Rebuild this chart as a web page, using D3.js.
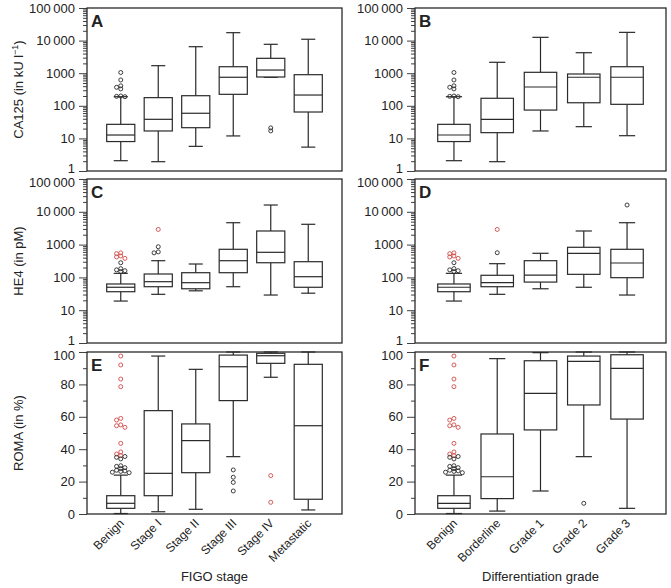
<!DOCTYPE html>
<html>
<head>
<meta charset="utf-8">
<script src="https://cdn.jsdelivr.net/npm/d3@7"></script>
<style>
	body { margin: 0; background: #fff; }
	text { font-family: "Liberation Sans", Arial, sans-serif; fill: #222; }
</style>
</head>
<body>
<div class="canvas"></div>
<script>
// categories
const figoCats = ['Benign', 'Stage I', 'Stage II', 'Stage III', 'Stage IV', 'Metastatic'];
const gradeCats = ['Benign', 'Borderline', 'Grade 1', 'Grade 2', 'Grade 3'];

// box stats: [whisker low, q1, median, q3, whisker high]
const ca125Figo = [
	[2.07, 8, 12.7, 27, 190],
	[1.93, 16.9, 38.5, 178, 1700],
	[5.7, 21.3, 59, 204, 6500],
	[11.9, 225, 750, 1580, 17500],
	[750, 765, 1250, 2860, 7700],
	[5.4, 64.5, 214, 900, 11000]
];
const ca125Grade = [
	[2.07, 8, 12.7, 27, 190],
	[1.93, 15, 38.5, 170, 2160],
	[16.9, 74, 377, 1065, 12600],
	[22.9, 124, 750, 945, 4250],
	[12.1, 111, 750, 1580, 17900]
];
const he4Figo = [
	[19, 36.6, 50, 63, 133],
	[30.5, 52, 74, 127, 323],
	[39, 45, 69, 139, 256],
	[52, 139, 323, 719, 4650],
	[29, 280, 582, 2600, 16100],
	[33, 50, 105, 301, 4160]
];
const he4Grade = [
	[19, 36.6, 50, 63, 133],
	[30.5, 52, 69, 116, 262],
	[45, 72, 118, 323, 543],
	[50, 124, 543, 828, 2600],
	[29, 98, 275, 719, 4650]
];
const romaFigo = [
	[0.3, 3.5, 6.6, 11.3, 24],
	[1.4, 11.3, 25.1, 63.8, 97.5],
	[2.9, 25.5, 45.3, 55.6, 89.3],
	[35.4, 70, 90.9, 98.1, 100],
	[84.4, 93, 97.7, 99.2, 100],
	[2.5, 9.1, 54.5, 92.4, 100]
];
const romaGrade = [
	[0.3, 3.5, 6.6, 11.3, 24],
	[1.8, 9.5, 23, 49.4, 95.9],
	[14.2, 51.9, 74.5, 94.6, 99.6],
	[35.4, 67.3, 94.2, 97.5, 100],
	[3.5, 58.6, 89.9, 98.3, 100]
];

// outliers (black / red), one list per category
const ca125FigoOut = [[190, 195, 200, 330, 370, 410, 620, 1050], [], [], [], [17, 21], []];
const ca125GradeOut = [[190, 195, 200, 330, 370, 410, 620, 1050], [], [], [], []];
const he4FigoOut = [[150, 160, 170, 185, 280], [560, 600, 860], [], [], [], []];
const he4FigoRed = [[380, 420, 450, 530, 560], [2900], [], [], [], []];
const he4GradeOut = [[150, 160, 170, 185, 280], [566], [], [], [16100]];
const he4GradeRed = [[380, 420, 450, 530, 560], [2900], [], [], []];
const romaFigoOut = [[25.5, 25.8, 26.3, 26.6, 27, 28, 28.6, 29.4, 29.8, 34, 35, 35.5], [], [], [14.2, 19.5, 22.7, 27.2], [], []];
const romaFigoRed = [[36, 37, 38.3, 43.6, 53.5, 54.5, 55, 58, 59, 78.6, 83.3, 92, 97.5], [], [], [], [7.2, 23.7], []];
const romaGradeOut = [[25.5, 25.8, 26.3, 26.6, 27, 28, 28.6, 29.4, 29.8, 34, 35, 35.5], [], [], [6.6], []];
const romaGradeRed = [[36, 37, 38.3, 43.6, 53.5, 54.5, 55, 58, 59, 78.6, 83.3, 92, 97.5], [], [], [], []];

// tick values
const logMajor = [1, 10, 100, 1000, 10000, 100000];
const linMajor = [0, 20, 40, 60, 80, 100];
const linMinor = [10, 30, 50, 70, 90];

const svg = d3.select('.canvas')
	.append('svg')
	.attr('width', 671)
	.attr('height', 588);

const cols = [
	{x0: 87, x1: 342, cats: figoCats, title: 'FIGO stage'},
	{x0: 415, x1: 666, cats: gradeCats, title: 'Differentiation grade'}
];
const rows = [
	{y0: 8, y1: 171, log: true},
	{y0: 179, y1: 343, log: true},
	{y0: 352, y1: 514, log: false}
];

const panels = [
	{r: 0, c: 0, letter: 'A', stats: ca125Figo, out: ca125FigoOut, red: null},
	{r: 0, c: 1, letter: 'B', stats: ca125Grade, out: ca125GradeOut, red: null},
	{r: 1, c: 0, letter: 'C', stats: he4Figo, out: he4FigoOut, red: he4FigoRed},
	{r: 1, c: 1, letter: 'D', stats: he4Grade, out: he4GradeOut, red: he4GradeRed},
	{r: 2, c: 0, letter: 'E', stats: romaFigo, out: romaFigoOut, red: romaFigoRed},
	{r: 2, c: 1, letter: 'F', stats: romaGrade, out: romaGradeOut, red: romaGradeRed}
];

const logMinor = [];
logMajor.slice(0, -1).forEach(d => {
	for (let k = 2; k < 10; k++) logMinor.push(d * k);
});

// 4-digit numbers without separator, larger with a thin space
const fmtLog = d => d >= 10000 ? d3.format(',')(d).replace(/,/g, '\u2009') : String(d);
const stroke = '#2a2a2a';
const red = '#cf4b47';
const rad = 2;

panels.forEach(p => {
	const col = cols[p.c];
	const row = rows[p.r];

	const x = d3.scalePoint()
		.domain(col.cats)
		.range([col.x0, col.x1])
		.padding(0.9);
	const boxW = x.step() * 0.75;

	const y = row.log
		? d3.scaleLog().domain([1, 100000]).range([row.y1, row.y0])
		: d3.scaleLinear().domain([0, 100]).range([row.y1, row.y0]);
	const top = row.log ? 100000 : 100;
	const bottom = row.log ? 1 : 0;

	const g = svg.append('g');

	// axis
	const major = d3.axisLeft(y)
		.tickValues(row.log ? logMajor : linMajor)
		.tickSize(8)
		.tickPadding(4)
		.tickFormat(row.log ? fmtLog : d3.format('d'));
	const minor = d3.axisLeft(y)
		.tickValues(row.log ? logMinor : linMinor)
		.tickSize(4)
		.tickFormat('');

	[major, minor].forEach(ax => {
		const a = g.append('g')
			.attr('transform', `translate(${col.x0}, 0)`)
			.call(ax);
		a.select('.domain').remove();
		a.selectAll('line').attr('stroke', stroke).attr('stroke-width', 0.9);
		a.selectAll('text')
			.style('font-size', '13px')
			.style('font-family', '"Liberation Sans", Arial, sans-serif')
			.attr('fill', '#222')
			// keep the end labels of stacked panels apart
			.attr('dy', d => d === top && p.r > 0 ? '0.55em' : d === bottom && p.r < 2 ? '0.1em' : '0.32em');
	});

	// frame
	g.append('rect')
		.attr('x', col.x0)
		.attr('y', row.y0)
		.attr('width', col.x1 - col.x0)
		.attr('height', row.y1 - row.y0)
		.attr('fill', 'none')
		.attr('stroke', stroke)
		.attr('stroke-width', 1.3);

	// letter
	g.append('text')
		.attr('x', col.x0 + 4)
		.attr('y', row.y0 + 19)
		.style('font-size', '17px')
		.style('font-weight', 'bold')
		.text(p.letter);

	// boxes
	const boxes = g.selectAll('.box')
		.data(p.stats.map((s, i) => ({cat: col.cats[i], s: s, i: i})))
		.enter()
		.append('g')
			.attr('class', 'box')
			.attr('transform', d => `translate(${x(d.cat)}, 0)`)
			.attr('stroke', stroke)
			.attr('stroke-width', 1.2)
			.attr('fill', 'none');

	boxes.append('line')
		.attr('y1', d => y(d.s[0])).attr('y2', d => y(d.s[1]));
	boxes.append('line')
		.attr('y1', d => y(d.s[3])).attr('y2', d => y(d.s[4]));
	[0, 4].forEach(k => {
		boxes.append('line')
			.attr('x1', -boxW / 4).attr('x2', boxW / 4)
			.attr('y1', d => y(d.s[k])).attr('y2', d => y(d.s[k]));
	});
	boxes.append('rect')
		.attr('x', -boxW / 2)
		.attr('width', boxW)
		.attr('y', d => y(d.s[3]))
		.attr('height', d => y(d.s[1]) - y(d.s[3]))
		.attr('fill', '#fff');
	boxes.append('line')
		.attr('x1', -boxW / 2).attr('x2', boxW / 2)
		.attr('y1', d => y(d.s[2])).attr('y2', d => y(d.s[2]));

	// outliers, dodged sideways when they overlap
	col.cats.forEach((cat, i) => {
		const pts = p.out[i].map(v => ({v: v, c: stroke}))
			.concat(p.red ? p.red[i].map(v => ({v: v, c: red})) : []);
		pts.forEach(d => d.py = y(d.v));
		pts.sort((a, b) => a.py - b.py);
		const placed = [];
		const dx = 4.2;
		pts.forEach(d => {
			const offs = [0, -1, 1, -2, 2, -3, 3];
			for (const o of offs) {
				const px = o * dx;
				const clash = placed.some(q => Math.hypot(q.px - px, q.py - d.py) < 2.6);
				if (!clash) { d.px = px; break; }
			}
			if (d.px === undefined) d.px = 0;
			placed.push(d);
		});
		g.selectAll(null)
			.data(pts)
			.enter()
			.append('circle')
				.attr('cx', d => x(cat) + d.px)
				.attr('cy', d => d.py)
				.attr('r', rad)
				.attr('fill', 'none')
				.attr('stroke', d => d.c)
				.attr('stroke-width', 0.9);
	});

	// x labels on bottom row
	if (p.r === 2) {
		g.selectAll('.xlab')
			.data(col.cats)
			.enter()
			.append('text')
				.attr('class', 'xlab')
				.attr('text-anchor', 'end')
				.attr('transform', d => `translate(${x(d) + 4}, ${row.y1 + 10}) rotate(-45)`)
				.style('font-size', '12px')
				.text(d => d);

		svg.append('text')
			.attr('x', (col.x0 + col.x1) / 2)
			.attr('y', 581)
			.attr('text-anchor', 'middle')
			.style('font-size', '13px')
			.text(col.title);
	}
});

// y titles
const yTitles = [
	{row: 0, txt: 'CA125 (in kU l', sup: '\u22121', tail: ')'},
	{row: 1, txt: 'HE4 (in pM)'},
	{row: 2, txt: 'ROMA (in %)'}
];
yTitles.forEach(t => {
	const r = rows[t.row];
	const txt = svg.append('text')
		.attr('text-anchor', 'middle')
		.attr('transform', `translate(23, ${(r.y0 + r.y1) / 2}) rotate(-90)`)
		.style('font-size', '13px')
		.text(t.txt);
	if (t.sup) {
		txt.append('tspan')
			.attr('dy', -5)
			.style('font-size', '9px')
			.text(t.sup);
		txt.append('tspan')
			.attr('dy', 5)
			.text(t.tail);
	}
});
</script>
</body>
</html>
